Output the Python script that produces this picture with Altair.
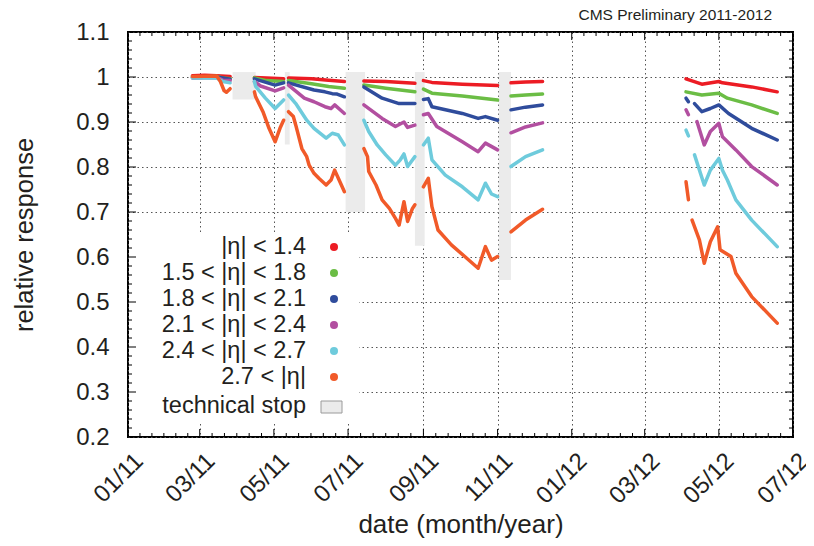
import altair as alt
import pandas as pd

FONT = "Liberation Sans"
INK = "#231f20"

SERIES = ["|η| < 1.4", "1.5 < |η| < 1.8", "1.8 < |η| < 2.1",
          "2.1 < |η| < 2.4", "2.4 < |η| < 2.7", "2.7 < |η|"]
COLORS = ["#ec1c24", "#6bbd45", "#2f4c9c", "#b24fa0", "#6ecbdc", "#f15a29"]

# each series: list of continuous segments of (date, relative response)
ETA_14 = [
    [("2011-02-23", 1.003), ("2011-03-05", 1.004), ("2011-03-15", 1.003), ("2011-03-26", 1.001)],
    [("2011-04-15", 0.999), ("2011-04-25", 0.998), ("2011-05-09", 0.996)],
    [("2011-05-13", 0.998), ("2011-06-01", 0.996), ("2011-06-15", 0.993), ("2011-06-28", 0.990)],
    [("2011-07-14", 0.991), ("2011-08-01", 0.990), ("2011-08-25", 0.986)],
    [("2011-09-01", 0.992), ("2011-09-08", 0.988), ("2011-10-03", 0.984), ("2011-11-01", 0.981)],
    [("2011-11-12", 0.987), ("2011-11-24", 0.989), ("2011-12-08", 0.990)],
    [("2012-04-04", 0.996), ("2012-04-17", 0.984), ("2012-05-01", 0.990), ("2012-05-04", 0.987),
     ("2012-05-28", 0.978), ("2012-06-18", 0.967)],
]
ETA_15_18 = [
    [("2011-02-23", 1.000), ("2011-03-15", 1.001), ("2011-03-20", 0.998), ("2011-03-26", 0.996)],
    [("2011-04-15", 0.998), ("2011-04-25", 0.992), ("2011-05-09", 0.990)],
    [("2011-05-13", 0.992), ("2011-06-01", 0.985), ("2011-06-15", 0.979), ("2011-06-28", 0.975)],
    [("2011-07-14", 0.982), ("2011-08-01", 0.975), ("2011-08-25", 0.967)],
    [("2011-09-01", 0.973), ("2011-09-08", 0.964), ("2011-10-03", 0.958), ("2011-11-01", 0.949)],
    [("2011-11-12", 0.958), ("2011-11-24", 0.960), ("2011-12-08", 0.962)],
    [("2012-04-04", 0.967), ("2012-04-17", 0.960), ("2012-05-01", 0.964), ("2012-05-08", 0.953),
     ("2012-05-28", 0.938), ("2012-06-18", 0.919)],
]
ETA_18_21 = [
    [("2011-02-23", 0.999), ("2011-03-15", 1.000), ("2011-03-26", 0.995)],
    [("2011-04-15", 0.996), ("2011-05-02", 0.982), ("2011-05-09", 0.987)],
    [("2011-05-13", 0.987), ("2011-06-03", 0.971), ("2011-06-12", 0.967), ("2011-06-18", 0.963),
     ("2011-06-22", 0.962), ("2011-06-28", 0.956)],
    [("2011-07-14", 0.978), ("2011-07-29", 0.953), ("2011-08-12", 0.941), ("2011-08-25", 0.941)],
    [("2011-09-01", 0.950), ("2011-09-05", 0.952), ("2011-09-08", 0.934), ("2011-10-03", 0.919),
     ("2011-10-16", 0.908), ("2011-10-22", 0.912), ("2011-11-01", 0.904)],
    [("2011-11-12", 0.927), ("2011-11-24", 0.933), ("2011-12-08", 0.938)],
    [("2012-04-04", 0.953), ("2012-04-06", 0.945)],
    [("2012-04-11", 0.941), ("2012-04-17", 0.923), ("2012-04-24", 0.930), ("2012-05-01", 0.938),
     ("2012-05-09", 0.919), ("2012-05-28", 0.886), ("2012-06-18", 0.860)],
]
ETA_21_24 = [
    [("2011-02-23", 0.998), ("2011-03-15", 0.999), ("2011-03-20", 0.993), ("2011-03-26", 0.992)],
    [("2011-04-15", 0.990), ("2011-04-20", 0.980), ("2011-05-02", 0.969), ("2011-05-09", 0.976)],
    [("2011-05-13", 0.982), ("2011-05-26", 0.953), ("2011-06-03", 0.945), ("2011-06-12", 0.934),
     ("2011-06-17", 0.930), ("2011-06-20", 0.938), ("2011-06-28", 0.919)],
    [("2011-07-14", 0.938), ("2011-07-29", 0.908), ("2011-08-09", 0.890), ("2011-08-16", 0.900),
     ("2011-08-19", 0.888), ("2011-08-25", 0.893)],
    [("2011-09-01", 0.916), ("2011-09-05", 0.919), ("2011-09-12", 0.890), ("2011-10-03", 0.856),
     ("2011-10-16", 0.834), ("2011-10-22", 0.853), ("2011-11-01", 0.838)],
    [("2011-11-12", 0.876), ("2011-11-24", 0.889), ("2011-12-08", 0.898)],
    [("2012-04-04", 0.927), ("2012-04-06", 0.916)],
    [("2012-04-13", 0.901), ("2012-04-19", 0.849), ("2012-04-24", 0.879), ("2012-05-01", 0.897),
     ("2012-05-04", 0.867), ("2012-05-15", 0.838), ("2012-05-28", 0.801), ("2012-06-18", 0.760)],
]
ETA_24_27 = [
    [("2011-02-23", 0.998), ("2011-03-15", 0.998), ("2011-03-20", 0.990), ("2011-03-26", 0.987)],
    [("2011-04-15", 0.990), ("2011-04-16", 0.979), ("2011-04-24", 0.953), ("2011-05-02", 0.930),
     ("2011-05-09", 0.949)],
    [("2011-05-13", 0.960), ("2011-05-19", 0.941), ("2011-05-28", 0.904), ("2011-06-03", 0.886),
     ("2011-06-13", 0.864), ("2011-06-18", 0.875), ("2011-06-23", 0.871), ("2011-06-28", 0.849)],
    [("2011-07-14", 0.904), ("2011-07-18", 0.879), ("2011-07-25", 0.849), ("2011-08-01", 0.827),
     ("2011-08-09", 0.804), ("2011-08-13", 0.816), ("2011-08-16", 0.829), ("2011-08-19", 0.801),
     ("2011-08-25", 0.823)],
    [("2011-09-01", 0.849), ("2011-09-05", 0.864), ("2011-09-08", 0.816), ("2011-09-19", 0.782),
     ("2011-10-03", 0.756), ("2011-10-16", 0.727), ("2011-10-22", 0.764), ("2011-10-27", 0.740),
     ("2011-11-01", 0.734)],
    [("2011-11-12", 0.801), ("2011-11-24", 0.823), ("2011-12-08", 0.838)],
    [("2012-04-04", 0.882), ("2012-04-06", 0.869)],
    [("2012-04-11", 0.827), ("2012-04-19", 0.760), ("2012-04-24", 0.793), ("2012-05-01", 0.819),
     ("2012-05-04", 0.793), ("2012-05-08", 0.771), ("2012-05-15", 0.727), ("2012-05-28", 0.682),
     ("2012-06-18", 0.623)],
]
ETA_27 = [
    [("2011-02-23", 1.001), ("2011-03-15", 1.002), ("2011-03-18", 0.990), ("2011-03-21", 0.970),
     ("2011-03-23", 0.966), ("2011-03-26", 0.974)],
    [("2011-04-15", 0.967), ("2011-04-16", 0.956), ("2011-04-22", 0.923), ("2011-04-27", 0.886),
     ("2011-05-02", 0.856), ("2011-05-06", 0.886), ("2011-05-09", 0.904)],
    [("2011-05-13", 0.923), ("2011-05-17", 0.912), ("2011-05-19", 0.893), ("2011-05-24", 0.841),
     ("2011-05-28", 0.823), ("2011-05-30", 0.804), ("2011-06-03", 0.786), ("2011-06-07", 0.775),
     ("2011-06-13", 0.760), ("2011-06-17", 0.771), ("2011-06-20", 0.793), ("2011-06-23", 0.775),
     ("2011-06-28", 0.745)],
    [("2011-07-14", 0.841), ("2011-07-17", 0.823), ("2011-07-18", 0.790), ("2011-07-24", 0.760),
     ("2011-07-29", 0.727), ("2011-08-04", 0.708), ("2011-08-09", 0.686), ("2011-08-12", 0.671),
     ("2011-08-16", 0.723), ("2011-08-19", 0.679), ("2011-08-23", 0.708), ("2011-08-25", 0.716)],
    [("2011-09-01", 0.756), ("2011-09-05", 0.775), ("2011-09-08", 0.712), ("2011-09-13", 0.660),
     ("2011-09-24", 0.627), ("2011-10-05", 0.601), ("2011-10-16", 0.575), ("2011-10-22", 0.623),
     ("2011-10-27", 0.593), ("2011-11-01", 0.601)],
    [("2011-11-12", 0.656), ("2011-11-24", 0.682), ("2011-12-08", 0.706)],
    [("2012-04-04", 0.767), ("2012-04-06", 0.727)],
    [("2012-04-09", 0.682), ("2012-04-15", 0.638), ("2012-04-19", 0.586), ("2012-04-24", 0.634),
     ("2012-04-30", 0.667), ("2012-05-02", 0.616), ("2012-05-11", 0.601), ("2012-05-15", 0.564),
     ("2012-05-28", 0.512), ("2012-06-18", 0.453)],
]
ALL_SERIES = [ETA_14, ETA_15_18, ETA_18_21, ETA_21_24, ETA_24_27, ETA_27]

# technical stops
STOP_START = ["2011-03-28", "2011-05-10", "2011-06-29", "2011-08-25", "2011-11-02"]
STOP_END = ["2011-04-16", "2011-05-14", "2011-07-15", "2011-09-02", "2011-11-12"]
STOP_TOP = [1.011, 1.011, 1.011, 1.011, 1.011]
STOP_BOTTOM = [0.950, 0.850, 0.700, 0.625, 0.549]

# axes
X_MAJOR = ["2011-01-01", "2011-03-01", "2011-05-01", "2011-07-01", "2011-09-01",
           "2011-11-01", "2012-01-01", "2012-03-01", "2012-05-01", "2012-07-01"]
Y_MAJOR = [0.2, 0.3, 0.4, 0.5, 0.6, 0.7, 0.8, 0.9, 1.0, 1.1]
LEGEND_EXTRA = "technical stop"
CORNER_TEXT = "CMS Preliminary 2011-2012"

W, H = 665, 405

# ---------- tables ----------
rows = []
for name, segs in zip(SERIES, ALL_SERIES):
    for k, seg in enumerate(segs):
        for d, v in seg:
            rows.append({"series": name, "seg": f"{name}-{k}", "date": d, "value": v})
df = pd.DataFrame(rows)

stops = pd.DataFrame({"start": STOP_START, "end": STOP_END,
                      "top": STOP_TOP, "bottom": STOP_BOTTOM})

maj = pd.to_datetime(X_MAJOR)
x_minor = []
for a, b in zip(maj[:-1], maj[1:]):
    for k in range(1, 6):
        t = a + (b - a) * k / 6
        x_minor.append(t.strftime("%Y-%m-%dT%H:%M:%SZ"))
xmaj_df = pd.DataFrame({"date": X_MAJOR})
xmin_df = pd.DataFrame({"date": x_minor})
y_minor = [round(0.2 + 0.02 * i, 2) for i in range(46)]
y_minor = [v for v in y_minor if all(abs(v - m) > 1e-6 for m in Y_MAJOR)]
ymaj_df = pd.DataFrame({"value": Y_MAJOR})
ymin_df = pd.DataFrame({"value": y_minor})

# ---------- scales / axes ----------
xscale = alt.Scale(type="utc",
                   domain=[alt.DateTime(year=2011, month=1, date=1, utc=True),
                           alt.DateTime(year=2012, month=7, date=1, utc=True)])
yscale = alt.Scale(domain=[0.2, 1.1], nice=False, zero=False)
cscale = alt.Scale(domain=SERIES, range=COLORS)

xaxis = alt.Axis(
    values=[alt.DateTime(year=int(s[:4]), month=int(s[5:7]), date=1, utc=True) for s in X_MAJOR],
    format="%m/%y", labelAngle=-45, labelAlign="right", labelBaseline="middle",
    labelFontSize=24, labelOffset=11, labelPadding=20, labelFlush=False, labelOverlap=False,
    title="date (month/year)", titleFontSize=26, titleFontWeight="normal",
    titleX=W / 2, titleY=95, titleAlign="center", titleBaseline="alphabetic",
    grid=True, ticks=False, tickSize=0, domain=False)
yaxis = alt.Axis(
    values=Y_MAJOR, format="~g", labelFontSize=24, labelPadding=19,
    title="relative response", titleFontSize=25.5, titleFontWeight="normal",
    titleX=-96, titleY=H / 2, titleAlign="center", titleBaseline="alphabetic", titleAngle=-90,
    grid=True, ticks=False, tickSize=0, domain=False)

# ---------- layers ----------
stop_layer = alt.Chart(stops).mark_rect(color="#ebebeb").encode(
    x=alt.X("start:T", scale=xscale, axis=xaxis),
    x2="end:T",
    y=alt.Y("top:Q", scale=yscale, axis=yaxis),
    y2="bottom:Q",
)

lines = alt.Chart(df).mark_line(strokeWidth=3.5, strokeJoin="round", strokeCap="round").encode(
    x=alt.X("date:T", scale=xscale, axis=xaxis),
    y=alt.Y("value:Q", scale=yscale, axis=yaxis),
    color=alt.Color("series:N", scale=cscale, legend=None),
    detail="seg:N",
)

one = pd.DataFrame({"t": [LEGEND_EXTRA]})
leg_layers = [
    alt.Chart(one).mark_rect(color="white").encode(
        x=alt.value(1), x2=alt.value(231), y=alt.value(201), y2=alt.value(390))
]
ROW0, ROWSTEP = 215, 26
for i, (name, col) in enumerate(zip(SERIES, COLORS)):
    row = pd.DataFrame({"series": [name]})
    leg_layers.append(
        alt.Chart(row).mark_text(align="right", baseline="middle", font=FONT,
                                 fontSize=23.5, color=INK).encode(
            x=alt.value(178), y=alt.value(ROW0 + ROWSTEP * i), text="series:N"))
    leg_layers.append(
        alt.Chart(row).mark_point(filled=True, shape="circle", size=64, opacity=1,
                                  color=col).encode(
            x=alt.value(206), y=alt.value(ROW0 + ROWSTEP * i)))
leg_layers.append(
    alt.Chart(one).mark_text(align="right", baseline="middle", font=FONT,
                             fontSize=23.5, color=INK).encode(
        x=alt.value(178), y=alt.value(374), text="t:N"))
leg_layers.append(
    alt.Chart(one).mark_rect(fill="#ebebeb", stroke="#9a9a9a", strokeWidth=1).encode(
        x=alt.value(193), x2=alt.value(214), y=alt.value(369), y2=alt.value(381)))


def xticks(data, y0, y1):
    return alt.Chart(data).mark_rule(color="black", strokeWidth=1).encode(
        x=alt.X("date:T", scale=xscale, axis=xaxis), y=alt.value(y0), y2=alt.value(y1))


def yticks(data, x0, x1):
    return alt.Chart(data).mark_rule(color="black", strokeWidth=1).encode(
        y=alt.Y("value:Q", scale=yscale, axis=yaxis), x=alt.value(x0), x2=alt.value(x1))


tick_layers = [
    xticks(xmaj_df, H, H - 8), xticks(xmin_df, H, H - 4),
    xticks(xmaj_df, 0, 8), xticks(xmin_df, 0, 4),
    yticks(ymaj_df, 0, 8), yticks(ymin_df, 0, 4),
    yticks(ymaj_df, W, W - 8), yticks(ymin_df, W, W - 4),
]

corner = alt.Chart(pd.DataFrame({"t": [CORNER_TEXT]})).mark_text(
    align="right", baseline="alphabetic", font=FONT, fontSize=15.5, color=INK
).encode(x=alt.value(644), y=alt.value(-12), text="t:N")

chart = alt.layer(
    stop_layer, lines, *leg_layers, *tick_layers, corner
).properties(
    width=W, height=H,
    padding={"left": 120, "top": 24, "right": 13, "bottom": 101},
    autosize=alt.AutoSizeParams(type="none"),
).configure_view(
    stroke="black", strokeWidth=2
).configure_axis(
    labelFont=FONT, titleFont=FONT, labelColor=INK, titleColor=INK,
    gridColor="#555555", gridDash=[1.5, 3], gridWidth=1, gridOpacity=1,
)

chart.save("out.html", embed_options={"renderer": "svg", "actions": False})
